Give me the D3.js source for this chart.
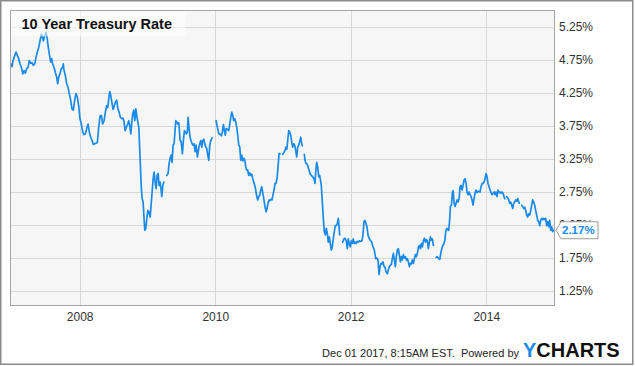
<!DOCTYPE html>
<html><head><meta charset="utf-8">
<script src="https://cdn.jsdelivr.net/npm/d3@7"></script>
<style>html,body{margin:0;padding:0;background:#fff;} svg{display:block;font-family:Arial,"Liberation Sans",sans-serif;}</style>
</head><body><svg id="c" width="635" height="366"></svg>
<script>
const title = "10 Year Treasury Rate";
const yTicks = [1.25, 1.75, 2.25, 2.75, 3.25, 3.75, 4.25, 4.75, 5.25];
const xTickYears = [2008, 2010, 2012, 2014];
const lastValue = 2.17;
const footerText = "Dec 01 2017, 8:15AM EST.  Powered by";
const logoA = "Y", logoB = "CHARTS";

// decimal years; null rate = gap in the series
const years = [
2006.982,2007.001,2007.015,2007.041,2007.060,2007.079,2007.100,2007.119,2007.138,2007.159,2007.178,2007.197,2007.218,2007.237,2007.256,2007.277,2007.296,2007.315,2007.336,2007.355,2007.374,2007.395,2007.414,2007.433,2007.448,2007.463,2007.483,2007.503,2007.517,2007.532,2007.551,2007.572,2007.587,2007.601,2007.621,2007.640,2007.661,2007.675,2007.690,2007.709,2007.728,2007.749,2007.758,2007.768,2007.787,2007.808,2007.827,2007.846,2007.867,2007.886,2007.906,2007.926,2007.945,2007.965,2007.985,
2008.004,2008.024,2008.044,2008.063,2008.083,2008.103,2008.123,2008.142,2008.162,2008.182,2008.201,2008.221,2008.241,2008.260,2008.280,2008.300,2008.319,2008.339,2008.359,2008.378,2008.399,2008.413,2008.428,2008.443,2008.458,2008.477,2008.492,2008.506,2008.525,2008.546,2008.561,2008.580,2008.599,2008.620,2008.639,2008.654,2008.669,2008.688,2008.708,2008.723,2008.738,2008.753,2008.768,2008.782,2008.797,2008.812,2008.827,2008.841,2008.856,2008.871,2008.880,2008.890,2008.900,2008.909,2008.920,2008.934,2008.945,2008.959,2008.974,2008.989,
2009.004,2009.019,2009.038,2009.052,2009.067,2009.082,2009.097,2009.111,2009.126,2009.141,2009.156,2009.170,2009.185,2009.200,2009.210,2009.225,2009.240,2009.262,
2009.284,2009.303,2009.318,2009.333,2009.348,2009.362,2009.377,2009.392,2009.402,2009.417,2009.432,2009.447,2009.461,2009.470,2009.480,2009.495,2009.514,2009.529,2009.544,2009.559,2009.573,2009.588,2009.598,2009.613,2009.628,2009.647,2009.668,2009.687,2009.702,2009.717,2009.736,2009.751,2009.765,2009.786,2009.801,2009.815,2009.830,2009.845,2009.860,2009.874,2009.889,2009.904,2009.919,2009.934,2009.953,2009.980,
2010.012,2010.031,2010.052,2010.071,2010.090,2010.105,2010.120,2010.134,2010.149,2010.159,2010.179,2010.199,2010.214,2010.229,2010.244,2010.258,2010.273,2010.288,2010.303,2010.317,2010.332,2010.347,2010.362,2010.376,2010.391,2010.406,2010.421,2010.435,2010.450,2010.465,2010.480,2010.494,2010.509,2010.524,2010.539,2010.554,2010.568,2010.583,2010.598,2010.613,2010.627,2010.642,2010.657,2010.672,2010.686,2010.701,2010.716,2010.731,2010.750,2010.765,2010.779,2010.794,2010.809,2010.824,2010.838,2010.853,2010.868,2010.883,2010.897,2010.912,2010.927,2010.942,2010.957,2010.976,
2010.996,2011.015,2011.030,2011.045,2011.057,2011.070,2011.085,2011.100,2011.114,2011.129,2011.144,2011.159,2011.173,2011.188,2011.203,2011.218,2011.232,2011.247,2011.262,2011.277,2011.286,2011.300,
2011.315,2011.326,2011.340,2011.359,2011.380,2011.399,2011.418,2011.439,2011.458,2011.473,2011.483,2011.498,2011.513,2011.528,2011.542,2011.551,2011.566,2011.581,2011.596,2011.610,2011.625,2011.640,2011.655,2011.669,2011.684,2011.699,2011.714,2011.728,2011.743,2011.758,2011.773,2011.787,2011.802,2011.817,2011.827,2011.838,2011.860,
2011.882,2011.901,2011.916,2011.935,2011.950,2011.965,2011.979,2011.994,2012.009,2012.024,2012.038,2012.053,2012.068,2012.083,2012.097,2012.112,2012.127,2012.148,2012.167,2012.181,2012.196,2012.211,2012.226,2012.241,2012.255,2012.274,2012.295,2012.310,2012.329,2012.348,2012.369,2012.384,2012.403,2012.418,2012.433,2012.447,2012.462,2012.477,2012.492,2012.506,2012.521,2012.540,2012.555,2012.570,2012.584,2012.599,2012.614,2012.629,2012.644,2012.658,2012.673,2012.688,2012.702,2012.717,2012.732,2012.747,2012.761,2012.776,2012.791,2012.806,2012.820,2012.835,2012.850,2012.865,2012.880,2012.894,2012.909,2012.924,2012.939,2012.953,2012.968,2012.983,2012.998,2013.012,2013.027,2013.042,2013.057,2013.071,2013.086,2013.101,2013.116,2013.130,2013.145,2013.160,2013.175,2013.189,2013.204,2013.219,2013.240,
2013.259,2013.278,2013.299,2013.314,2013.328,2013.343,2013.358,2013.373,2013.387,2013.402,2013.417,2013.432,2013.446,2013.461,2013.470,2013.485,2013.500,2013.510,2013.525,2013.540,2013.554,2013.569,2013.584,2013.599,2013.613,2013.628,2013.643,2013.658,2013.672,2013.687,2013.702,2013.717,2013.731,2013.746,2013.761,2013.776,2013.790,2013.805,2013.820,2013.835,2013.849,2013.864,2013.879,2013.894,2013.908,2013.923,2013.938,2013.953,2013.967,2013.982,2013.997,2014.012,2014.026,2014.041,2014.056,2014.071,2014.085,2014.100,2014.115,2014.130,2014.144,2014.159,2014.174,2014.189,2014.203,2014.218,2014.233,2014.248,2014.262,2014.273,2014.288,
2014.302,2014.317,2014.332,2014.347,2014.361,2014.376,2014.391,2014.406,2014.420,2014.435,2014.450,2014.465,2014.479,2014.488,2014.506,
2014.524,2014.539,2014.553,2014.568,2014.583,2014.598,2014.612,2014.627,2014.642,2014.657,2014.671,2014.686,2014.701,2014.716,2014.730,2014.745,2014.760,2014.775,2014.790,2014.804,2014.819,2014.834,2014.849,2014.863,2014.878,2014.893,2014.908,2014.922,2014.937,2014.952,2014.967,2014.981,2014.996
];
const rates = [
4.69,4.65,4.74,4.82,4.87,4.82,4.77,4.69,4.64,4.54,4.59,4.55,4.62,4.64,4.74,4.70,4.71,4.67,4.69,4.79,4.87,4.94,5.04,5.14,5.11,5.04,5.11,5.17,5.10,4.97,4.84,4.72,4.77,4.69,4.64,4.56,4.49,4.39,4.49,4.54,4.62,4.64,4.69,4.60,4.52,4.39,4.34,4.24,4.14,4.01,3.99,4.14,4.24,4.19,4.06,
3.86,3.78,3.66,3.62,3.63,3.71,3.78,3.66,3.58,3.53,3.47,3.48,3.49,3.50,3.73,3.90,3.91,3.78,3.83,3.96,4.06,4.03,4.16,4.27,4.21,4.09,4.00,4.04,4.11,4.14,4.02,3.96,3.88,3.86,3.87,3.81,3.68,3.73,3.78,3.83,3.75,3.63,3.81,3.94,3.99,3.83,4.01,3.91,3.81,3.73,3.51,3.26,3.00,2.80,2.65,2.60,2.40,2.17,2.20,2.35,
2.47,2.45,2.37,2.55,2.75,2.95,3.05,2.90,2.80,3.00,3.03,2.85,2.90,2.78,2.68,2.85,2.90,null,
3.00,3.03,3.18,3.26,3.31,3.20,3.46,3.48,3.63,3.83,3.81,3.78,3.80,3.68,3.53,3.52,3.33,3.53,3.68,3.66,3.63,3.66,3.88,3.71,3.58,3.51,3.46,3.48,3.36,3.46,3.28,3.38,3.46,3.53,3.43,3.53,3.55,3.48,3.43,3.41,3.31,3.23,3.46,3.53,3.57,null,
3.83,3.73,3.63,3.63,3.60,3.66,3.77,3.68,3.61,3.71,3.70,3.68,3.78,3.88,3.96,3.91,3.83,3.86,3.81,3.73,3.61,3.46,3.43,3.23,3.31,3.22,3.26,3.24,3.13,3.08,3.08,3.00,3.04,3.00,3.02,2.95,2.90,2.85,2.78,2.68,2.63,2.68,2.70,2.78,2.83,2.74,2.65,2.55,2.45,2.50,2.58,2.63,2.62,2.64,2.63,2.71,2.78,2.88,2.88,2.95,3.13,3.33,3.33,null,
3.32,3.35,3.38,3.43,3.40,3.53,3.68,3.66,3.61,3.51,3.43,3.48,3.46,3.38,3.28,3.43,3.46,3.51,3.58,3.48,3.45,null,
3.32,3.23,3.18,3.17,3.10,3.03,3.00,2.98,2.95,2.88,3.05,3.20,3.13,2.98,3.00,2.95,2.85,2.60,2.35,2.15,2.10,2.20,2.12,1.99,2.07,1.97,1.87,1.92,2.04,2.15,2.24,2.24,2.27,2.35,2.24,2.10,null,
1.99,2.04,2.05,2.01,1.89,2.04,1.97,1.92,2.01,1.97,2.04,1.97,1.99,1.97,2.00,1.99,2.01,2.00,2.01,2.10,2.30,2.32,2.27,2.22,2.10,2.04,2.01,1.99,1.92,1.87,1.74,1.75,1.72,1.50,1.62,1.67,1.66,1.69,1.62,1.61,1.54,1.51,1.57,1.62,1.64,1.65,1.74,1.82,1.72,1.62,1.77,1.87,1.89,1.80,1.69,1.77,1.72,1.80,1.75,1.77,1.72,1.74,1.69,1.62,1.67,1.66,1.72,1.67,1.74,1.80,1.77,1.82,1.92,1.94,1.89,1.97,1.92,2.01,2.05,1.99,2.03,2.01,1.89,1.99,2.07,2.02,2.04,1.94,null,
1.76,1.77,1.74,1.73,1.82,1.89,1.94,1.96,2.01,2.15,2.20,2.18,2.17,2.35,2.53,2.55,2.74,2.77,2.58,2.53,2.58,2.63,2.60,2.65,2.83,2.85,2.78,2.85,2.93,2.95,2.88,2.74,2.71,2.75,2.71,2.68,2.63,2.55,2.65,2.74,2.78,2.74,2.76,2.76,2.75,2.83,2.88,2.88,2.90,2.95,3.03,2.98,2.88,2.83,2.78,2.74,2.71,2.73,2.75,2.71,2.75,2.68,2.78,2.74,2.75,2.73,2.75,2.73,2.68,2.65,null,
2.68,2.66,2.63,2.58,2.60,2.55,2.50,2.58,2.60,2.63,2.61,2.65,2.60,2.58,null,
2.55,2.53,2.50,2.52,2.47,2.40,2.37,2.42,2.40,2.47,2.55,2.63,2.60,2.55,2.47,2.40,2.32,2.30,2.24,2.32,2.35,2.33,2.35,2.33,2.35,2.24,2.30,2.22,2.32,2.17,2.22,2.15,2.17
];

function yd(y){const f=Math.floor(y);const a=Date.UTC(f,0,1),b=Date.UTC(f+1,0,1);return new Date(a+(y-f)*(b-a));}
const data = years.map((y,i)=>({date: yd(y), value: rates[i]}));

const svg = d3.select("#c");
const W = 635, H = 366;
const P = {l:10.5, r:554.5, t:10.5, b:305.5};
const x = d3.scaleUtc().domain([yd(2006.978), yd(2015.008)]).range([P.l, P.r]);
const y = d3.scaleLinear().domain([1.03, 5.5]).range([P.b, P.t]);

svg.append("rect").attr("x",0).attr("y",0).attr("width",W).attr("height",H).attr("fill","#fff");
svg.append("rect").attr("x",0.75).attr("y",0.75).attr("width",632).attr("height",363.5)
  .attr("fill","none").attr("stroke","#8a8a8a").attr("stroke-width",1.5);

svg.append("rect").attr("x",P.l).attr("y",P.t).attr("width",P.r-P.l).attr("height",P.b-P.t).attr("fill","#f6f6f6");

const grid = svg.append("g");
grid.selectAll("line.h").data(yTicks).join("line")
  .attr("x1",P.l).attr("x2",P.r).attr("y1",d=>Math.round(y(d))+0.5).attr("y2",d=>Math.round(y(d))+0.5)
  .attr("stroke","#d7d7d7").attr("stroke-width",1);
const xt = xTickYears.map(v=>new Date(Date.UTC(v,0,1)));
grid.selectAll("line.v").data(xt).join("line")
  .attr("y1",P.t).attr("y2",P.b).attr("x1",d=>Math.round(x(d))+0.5).attr("x2",d=>Math.round(x(d))+0.5)
  .attr("stroke","#d7d7d7").attr("stroke-width",1);

svg.append("clipPath").attr("id","clip").append("rect")
  .attr("x",P.l).attr("y",P.t).attr("width",P.r-P.l).attr("height",P.b-P.t);

const line = d3.line().defined(d=>d.value!=null).x(d=>x(d.date)).y(d=>y(d.value));
svg.append("path").datum(data).attr("clip-path","url(#clip)")
  .attr("d",line).attr("fill","none").attr("stroke","#1a8ae8").attr("stroke-width",1.7)
  .attr("stroke-linejoin","round").attr("stroke-linecap","round");

// title box
svg.append("rect").attr("x",P.l).attr("y",P.t).attr("width",175).attr("height",26)
  .attr("fill","#fff").attr("opacity",0.55);
svg.append("text").attr("x",21.5).attr("y",28.5).attr("font-size","14.5px").attr("font-weight","bold")
  .attr("fill","#111").text(title);

// plot frame
svg.append("rect").attr("x",P.l).attr("y",P.t).attr("width",P.r-P.l).attr("height",P.b-P.t)
  .attr("fill","none").attr("stroke","#a5a5a5").attr("stroke-width",1);

// y axis labels (right)
const ya = d3.axisRight(y).tickValues(yTicks).tickSize(0).tickPadding(4.5).tickFormat(d=>d3.format(".2f")(d)+"%");
const yg = svg.append("g").attr("transform",`translate(${P.r},0)`).call(ya);
yg.select(".domain").remove();
yg.selectAll("text").attr("font-size","12px").attr("fill","#333").attr("font-family","Arial,'Liberation Sans',sans-serif");

// x axis labels
const xa = d3.axisBottom(x).tickValues(xt).tickSize(0).tickPadding(7).tickFormat(d3.utcFormat("%Y"));
const xg = svg.append("g").attr("transform",`translate(0,${P.b})`).call(xa);
xg.select(".domain").remove();
xg.selectAll("text").attr("font-size","12px").attr("fill","#333").attr("font-family","Arial,'Liberation Sans',sans-serif");

// last value flag
const ly = y(lastValue);
const lx = P.r + 1.5;
svg.append("path")
  .attr("d",`M${lx},${ly} L${lx+5},${ly-8.5} L${lx+42},${ly-8.5} L${lx+42},${ly+8.5} L${lx+5},${ly+8.5} Z`)
  .attr("fill","#fff").attr("stroke","#9a9a9a").attr("stroke-width",1);
svg.append("text").attr("x",lx+6).attr("y",ly).attr("dy","0.36em").attr("font-size","11.5px")
  .attr("font-weight","bold").attr("fill","#1a8ae8").text(d3.format(".2f")(lastValue)+"%");

// footer
svg.append("text").attr("x",519).attr("y",357).attr("text-anchor","end").attr("font-size","11px")
  .attr("fill","#222").attr("xml:space","preserve").style("white-space","pre").text(footerText);
const logo = svg.append("text").attr("x",523).attr("y",357).attr("font-size","20px").attr("font-weight","bold");
logo.append("tspan").attr("fill","#1a8ae8").text(logoA);
logo.append("tspan").attr("fill","#111").text(logoB);
</script></body></html>
